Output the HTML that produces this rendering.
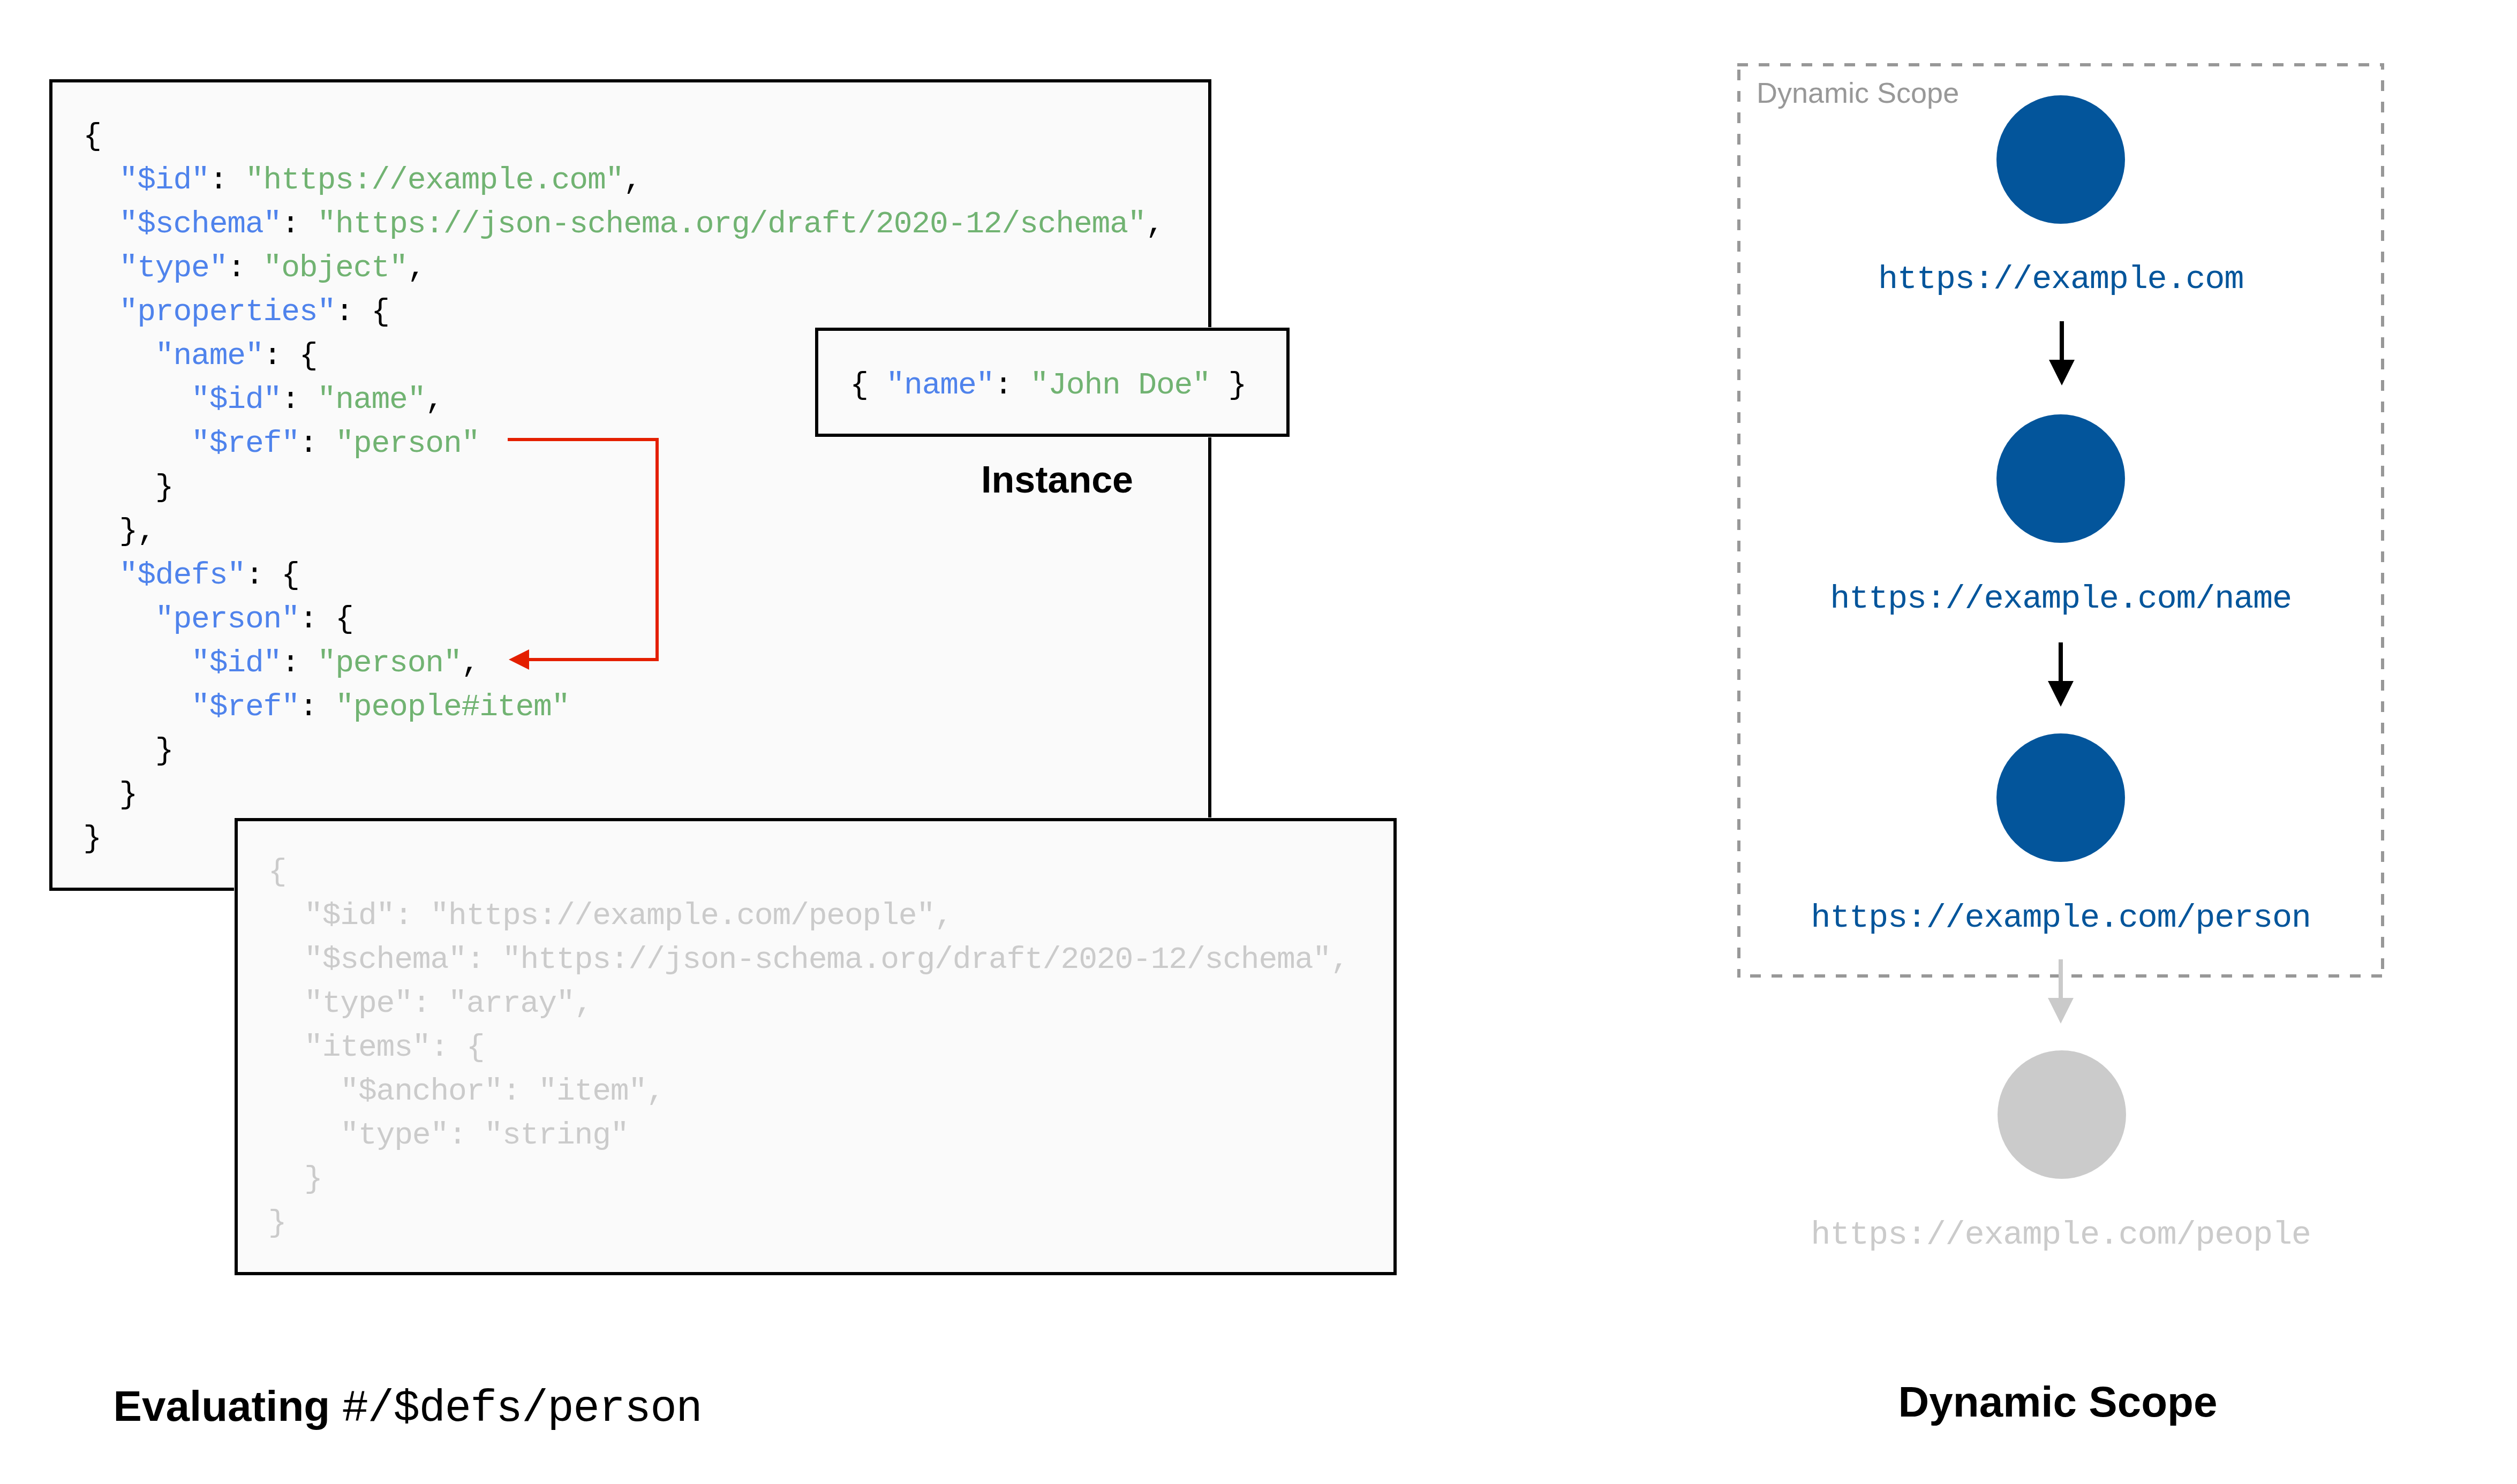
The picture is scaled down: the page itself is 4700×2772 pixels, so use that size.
<!DOCTYPE html>
<html><head><meta charset="utf-8"><title>Dynamic Scope</title>
<style>
html,body{margin:0;padding:0;background:#fff;}
body{width:4700px;height:2772px;overflow:hidden;position:relative;}
svg{position:absolute;left:0;top:0;display:block;}
.m{font-family:"Liberation Mono",monospace;}
.s{font-family:"Liberation Sans",sans-serif;}
</style></head><body>
<svg width="4700" height="2772" viewBox="0 0 4700 2772">
<rect width="4700" height="2772" fill="#fff"/>
<rect x="91" y="147" width="2172" height="1518" fill="#fff"/><rect x="92" y="148" width="2170" height="1516" fill="#000"/><rect x="98" y="154" width="2158" height="1504" fill="#fff"/><rect x="99" y="155" width="2156" height="1502" fill="#fafafa"/>
<text class="m" x="155.30" y="270.00" font-size="58" letter-spacing="-1.176" xml:space="preserve"><tspan fill="#000000">{</tspan></text>
<text class="m" x="222.56" y="352.00" font-size="58" letter-spacing="-1.176" xml:space="preserve"><tspan fill="#4f83ec">&quot;$id&quot;</tspan><tspan fill="#000000">: </tspan><tspan fill="#71b372">&quot;https://example.com&quot;</tspan><tspan fill="#000000">,</tspan></text>
<text class="m" x="222.56" y="434.00" font-size="58" letter-spacing="-1.176" xml:space="preserve"><tspan fill="#4f83ec">&quot;$schema&quot;</tspan><tspan fill="#000000">: </tspan><tspan fill="#71b372">&quot;https://json-schema.org/draft/2020-12/schema&quot;</tspan><tspan fill="#000000">,</tspan></text>
<text class="m" x="222.56" y="516.00" font-size="58" letter-spacing="-1.176" xml:space="preserve"><tspan fill="#4f83ec">&quot;type&quot;</tspan><tspan fill="#000000">: </tspan><tspan fill="#71b372">&quot;object&quot;</tspan><tspan fill="#000000">,</tspan></text>
<text class="m" x="222.56" y="598.00" font-size="58" letter-spacing="-1.176" xml:space="preserve"><tspan fill="#4f83ec">&quot;properties&quot;</tspan><tspan fill="#000000">: {</tspan></text>
<text class="m" x="289.82" y="680.00" font-size="58" letter-spacing="-1.176" xml:space="preserve"><tspan fill="#4f83ec">&quot;name&quot;</tspan><tspan fill="#000000">: {</tspan></text>
<text class="m" x="357.08" y="762.00" font-size="58" letter-spacing="-1.176" xml:space="preserve"><tspan fill="#4f83ec">&quot;$id&quot;</tspan><tspan fill="#000000">: </tspan><tspan fill="#71b372">&quot;name&quot;</tspan><tspan fill="#000000">,</tspan></text>
<text class="m" x="357.08" y="844.00" font-size="58" letter-spacing="-1.176" xml:space="preserve"><tspan fill="#4f83ec">&quot;$ref&quot;</tspan><tspan fill="#000000">: </tspan><tspan fill="#71b372">&quot;person&quot;</tspan></text>
<text class="m" x="289.82" y="926.00" font-size="58" letter-spacing="-1.176" xml:space="preserve"><tspan fill="#000000">}</tspan></text>
<text class="m" x="222.56" y="1008.00" font-size="58" letter-spacing="-1.176" xml:space="preserve"><tspan fill="#000000">},</tspan></text>
<text class="m" x="222.56" y="1090.00" font-size="58" letter-spacing="-1.176" xml:space="preserve"><tspan fill="#4f83ec">&quot;$defs&quot;</tspan><tspan fill="#000000">: {</tspan></text>
<text class="m" x="289.82" y="1172.00" font-size="58" letter-spacing="-1.176" xml:space="preserve"><tspan fill="#4f83ec">&quot;person&quot;</tspan><tspan fill="#000000">: {</tspan></text>
<text class="m" x="357.08" y="1254.00" font-size="58" letter-spacing="-1.176" xml:space="preserve"><tspan fill="#4f83ec">&quot;$id&quot;</tspan><tspan fill="#000000">: </tspan><tspan fill="#71b372">&quot;person&quot;</tspan><tspan fill="#000000">,</tspan></text>
<text class="m" x="357.08" y="1336.00" font-size="58" letter-spacing="-1.176" xml:space="preserve"><tspan fill="#4f83ec">&quot;$ref&quot;</tspan><tspan fill="#000000">: </tspan><tspan fill="#71b372">&quot;people#item&quot;</tspan></text>
<text class="m" x="289.82" y="1418.00" font-size="58" letter-spacing="-1.176" xml:space="preserve"><tspan fill="#000000">}</tspan></text>
<text class="m" x="222.56" y="1500.00" font-size="58" letter-spacing="-1.176" xml:space="preserve"><tspan fill="#000000">}</tspan></text>
<text class="m" x="155.30" y="1582.00" font-size="58" letter-spacing="-1.176" xml:space="preserve"><tspan fill="#000000">}</tspan></text>
<path d="M948,821 H1227 V1232 H986" fill="none" stroke="#e41f00" stroke-width="6" stroke-linejoin="miter"/>
<polygon points="950,1232 988,1213 988,1251" fill="#e41f00"/>
<text class="s" x="1832" y="920" font-size="70" font-weight="bold" fill="#000">Instance</text>
<rect x="1521" y="611" width="888" height="206" fill="#fff"/><rect x="1522" y="612" width="886" height="204" fill="#000"/><rect x="1528" y="618" width="874" height="192" fill="#fff"/><rect x="1529" y="619" width="872" height="190" fill="#fafafa"/>
<text class="m" x="1587.2" y="734.7" font-size="58" letter-spacing="-1.176" xml:space="preserve"><tspan fill="#000000">{ </tspan><tspan fill="#4f83ec">&quot;name&quot;</tspan><tspan fill="#000000">: </tspan><tspan fill="#71b372">&quot;John Doe&quot;</tspan><tspan fill="#000000"> }</tspan></text>
<rect x="437" y="1527" width="2172" height="856" fill="#fff"/><rect x="438" y="1528" width="2170" height="854" fill="#000"/><rect x="444" y="1534" width="2158" height="842" fill="#fff"/><rect x="445" y="1535" width="2156" height="840" fill="#fafafa"/>
<text class="m" x="500.80" y="1644.00" font-size="58" letter-spacing="-1.176" xml:space="preserve"><tspan fill="#cbcbcb">{</tspan></text>
<text class="m" x="568.06" y="1726.00" font-size="58" letter-spacing="-1.176" xml:space="preserve"><tspan fill="#cbcbcb">&quot;$id&quot;</tspan><tspan fill="#cbcbcb">: </tspan><tspan fill="#cbcbcb">&quot;https://example.com/people&quot;</tspan><tspan fill="#cbcbcb">,</tspan></text>
<text class="m" x="568.06" y="1808.00" font-size="58" letter-spacing="-1.176" xml:space="preserve"><tspan fill="#cbcbcb">&quot;$schema&quot;</tspan><tspan fill="#cbcbcb">: </tspan><tspan fill="#cbcbcb">&quot;https://json-schema.org/draft/2020-12/schema&quot;</tspan><tspan fill="#cbcbcb">,</tspan></text>
<text class="m" x="568.06" y="1890.00" font-size="58" letter-spacing="-1.176" xml:space="preserve"><tspan fill="#cbcbcb">&quot;type&quot;</tspan><tspan fill="#cbcbcb">: </tspan><tspan fill="#cbcbcb">&quot;array&quot;</tspan><tspan fill="#cbcbcb">,</tspan></text>
<text class="m" x="568.06" y="1972.00" font-size="58" letter-spacing="-1.176" xml:space="preserve"><tspan fill="#cbcbcb">&quot;items&quot;</tspan><tspan fill="#cbcbcb">: {</tspan></text>
<text class="m" x="635.32" y="2054.00" font-size="58" letter-spacing="-1.176" xml:space="preserve"><tspan fill="#cbcbcb">&quot;$anchor&quot;</tspan><tspan fill="#cbcbcb">: </tspan><tspan fill="#cbcbcb">&quot;item&quot;</tspan><tspan fill="#cbcbcb">,</tspan></text>
<text class="m" x="635.32" y="2136.00" font-size="58" letter-spacing="-1.176" xml:space="preserve"><tspan fill="#cbcbcb">&quot;type&quot;</tspan><tspan fill="#cbcbcb">: </tspan><tspan fill="#cbcbcb">&quot;string&quot;</tspan></text>
<text class="m" x="568.06" y="2218.00" font-size="58" letter-spacing="-1.176" xml:space="preserve"><tspan fill="#cbcbcb">}</tspan></text>
<text class="m" x="500.80" y="2300.00" font-size="58" letter-spacing="-1.176" xml:space="preserve"><tspan fill="#cbcbcb">}</tspan></text>
<text x="211.6" y="2654" font-size="80" fill="#000" xml:space="preserve"><tspan class="s" font-weight="bold">Evaluating </tspan><tspan class="m" x="638.4" font-size="82.6" letter-spacing="-1.568">#/$defs/person</tspan></text>
<text class="s" x="3544.6" y="2645.7" font-size="80" font-weight="bold" fill="#000">Dynamic Scope</text>
<g stroke="#989898" stroke-width="6" fill="none" stroke-dasharray="20 20"><line x1="3244" y1="121" x2="4452" y2="121"/><line x1="4449" y1="118" x2="4449" y2="1826" stroke-dashoffset="8"/><line x1="3244" y1="1823" x2="4452" y2="1823" stroke-dashoffset="16"/><line x1="3247" y1="118" x2="3247" y2="1826" stroke-dashoffset="28"/></g>
<text class="s" x="3280" y="191.7" font-size="54" fill="#989898">Dynamic Scope</text>
<circle cx="3848" cy="298" r="120" fill="#03559b"/>
<circle cx="3848" cy="894" r="120" fill="#03559b"/>
<circle cx="3848" cy="1490" r="120" fill="#03559b"/>
<circle cx="3850" cy="2082" r="120" fill="#cbcbcb"/>
<rect x="3846" y="600" width="8" height="72" fill="#000"/><polygon points="3826,672 3874,672 3850,720" fill="#000"/>
<rect x="3844" y="1200" width="8" height="72" fill="#000"/><polygon points="3824,1272 3872,1272 3848,1320" fill="#000"/>
<rect x="3844" y="1792" width="8" height="72" fill="#cacaca"/><polygon points="3824,1864 3872,1864 3848,1912" fill="#cacaca"/>
<text class="m" x="3848" y="538.2" font-size="62" letter-spacing="-1.306" text-anchor="middle" fill="#03559b">https://example.com</text>
<text class="m" x="3848" y="1134.7" font-size="62" letter-spacing="-1.306" text-anchor="middle" fill="#03559b">https://example.com/name</text>
<text class="m" x="3848" y="1730.7" font-size="62" letter-spacing="-1.306" text-anchor="middle" fill="#03559b">https://example.com/person</text>
<text class="m" x="3848" y="2322.7" font-size="62" letter-spacing="-1.306" text-anchor="middle" fill="#cbcbcb">https://example.com/people</text>
</svg>
</body></html>
